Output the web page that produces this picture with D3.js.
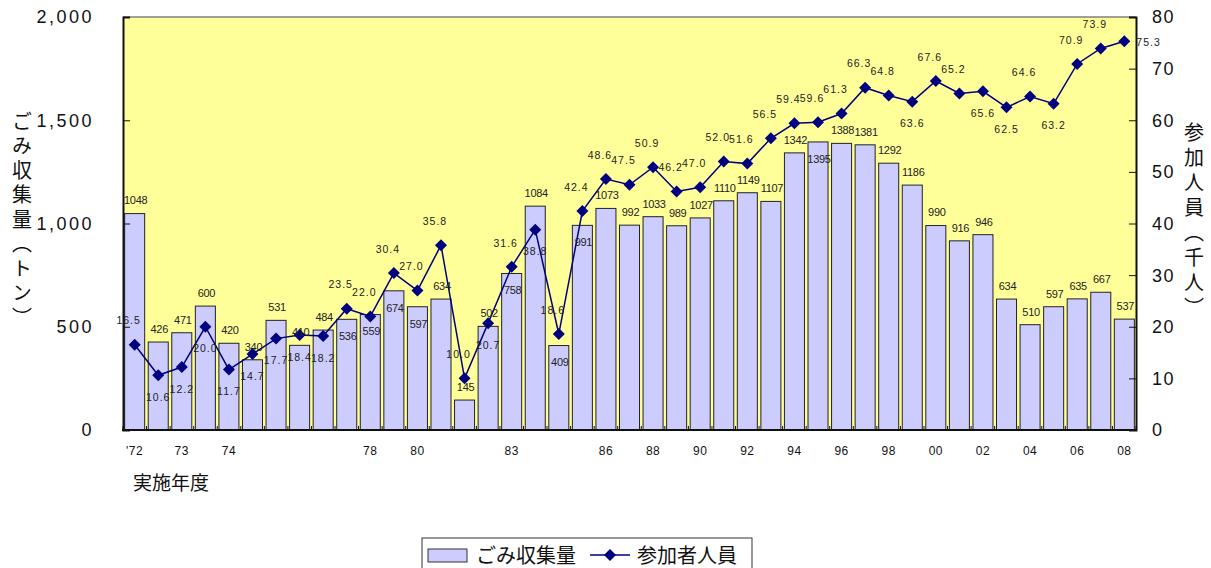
<!DOCTYPE html>
<html>
<head>
<meta charset="utf-8">
<script src="https://cdn.jsdelivr.net/npm/d3@7"></script>
<style>
  body { margin: 0; background: #fff; }
  svg { display: block; font-family: "Liberation Sans", Arial, sans-serif; }
  .jp { font-family: "Noto Sans CJK JP", sans-serif; }
  .lbl { font-size: 11px; fill: #222; }
</style>
</head>
<body>
<script>
// x categories (one per event) and the tick labels shown under them
var tickLabels = ["'72", "", "73", "", "74", "", "", "", "", "", "78", "", "80", "", "", "",
  "83", "", "", "", "86", "", "88", "", "90", "", "92", "", "94", "", "96", "", "98", "",
  "00", "", "02", "", "04", "", "06", "", "08"];

// ごみ収集量 (トン)
var garbage = [1048, 426, 471, 600, 420, 340, 531, 410, 484, 536, 559, 674, 597, 634, 145,
  502, 758, 1084, 409, 991, 1073, 992, 1033, 989, 1027, 1110, 1149, 1107, 1342, 1395,
  1388, 1381, 1292, 1186, 990, 916, 946, 634, 510, 597, 635, 667, 537];

// 参加者人員 (千人)
var people = [16.5, 10.6, 12.2, 20.0, 11.7, 14.7, 17.7, 18.4, 18.2, 23.5, 22.0, 30.4, 27.0,
  35.8, 10.0, 20.7, 31.6, 38.8, 18.6, 42.4, 48.6, 47.5, 50.9, 46.2, 47.0, 52.0, 51.6, 56.5,
  59.4, 59.6, 61.3, 66.3, 64.8, 63.6, 67.6, 65.2, 65.6, 62.5, 64.6, 63.2, 70.9, 73.9, 75.3];

var leftTicks = [0, 500, 1000, 1500, 2000];
var rightTicks = [0, 10, 20, 30, 40, 50, 60, 70, 80];

// where each data label sits: a = above, i = inside bar, b = below point, r = right
var barLabelPos = "aaaaaaaaa" + "iiii" + "aaa" + "i" + "a" + "ii" + "aaaaaaaaa" + "i" + "aaaaaaaaaaaaa";
var lineLabelPos = "a" + "bbbbbbbb" + "aaaaaa" + "b" + "a" + "b" + "a" + "a" + "aaaaaaaaaaaaa" +
  "b" + "aa" + "bb" + "a" + "b" + "aa" + "r";

var svgWidth = 1211, svgHeight = 568;
var plot = { left: 123, right: 1136, top: 17, bottom: 430 };

var svg = d3.select("body").append("svg")
  .attr("width", svgWidth)
  .attr("height", svgHeight);

var idx = d3.range(garbage.length);

var x = d3.scaleBand()
  .domain(idx)
  .range([plot.left, plot.right])
  .paddingInner(0.15)
  .paddingOuter(0.07);

var yLeft = d3.scaleLinear().domain([0, 2000]).range([plot.bottom, plot.top]);
var yRight = d3.scaleLinear().domain([0, 80]).range([plot.bottom, plot.top]);

// plot background
svg.append("rect")
  .attr("x", plot.left).attr("y", plot.top)
  .attr("width", plot.right - plot.left).attr("height", plot.bottom - plot.top)
  .attr("fill", "#ffff99");

svg.append("line")
  .attr("x1", plot.left).attr("x2", plot.right)
  .attr("y1", plot.top).attr("y2", plot.top)
  .attr("stroke", "#808080").attr("stroke-width", 1.5);

// bars
svg.append("g").selectAll("rect")
  .data(idx)
  .enter().append("rect")
  .attr("x", function(i) { return x(i); })
  .attr("y", function(i) { return yLeft(garbage[i]); })
  .attr("width", x.bandwidth())
  .attr("height", function(i) { return plot.bottom - yLeft(garbage[i]); })
  .attr("fill", "#ccccff")
  .attr("stroke", "#222")
  .attr("stroke-width", 1);

// axes
var leftAxis = d3.axisRight(yLeft).tickValues(leftTicks).tickSize(7).tickFormat("");
var rightAxis = d3.axisLeft(yRight).tickValues(rightTicks).tickSize(7).tickFormat("");

var gl = svg.append("g").attr("transform", "translate(" + plot.left + ",0)").call(leftAxis);
var gr = svg.append("g").attr("transform", "translate(" + plot.right + ",0)").call(rightAxis);
[gl, gr].forEach(function(g) {
  g.select(".domain").attr("stroke", "#111").attr("stroke-width", 2);
  g.selectAll(".tick line").attr("stroke", "#111");
});

// bottom axis with ticks between categories
var bottom = svg.append("g");
bottom.selectAll("line.tk")
  .data(d3.range(garbage.length + 1))
  .enter().append("line")
  .attr("class", "tk")
  .attr("x1", function(i) { return plot.left + (plot.right - plot.left) * i / garbage.length; })
  .attr("x2", function(i) { return plot.left + (plot.right - plot.left) * i / garbage.length; })
  .attr("y1", plot.bottom).attr("y2", plot.bottom - 4)
  .attr("stroke", "#111");
bottom.append("line")
  .attr("x1", plot.left - 1).attr("x2", plot.right + 1)
  .attr("y1", plot.bottom).attr("y2", plot.bottom)
  .attr("stroke", "#111").attr("stroke-width", 2);

// tick labels
svg.append("g").selectAll("text")
  .data(leftTicks)
  .enter().append("text")
  .attr("x", 94)
  .attr("y", function(d) { return yLeft(d); })
  .attr("dy", "0.36em")
  .attr("text-anchor", "end")
  .style("font-size", "18px")
  .style("letter-spacing", "2.5px")
  .attr("fill", "#111")
  .text(function(d) { return d3.format(",")(d); });

svg.append("g").selectAll("text")
  .data(rightTicks)
  .enter().append("text")
  .attr("x", 1152)
  .attr("y", function(d) { return yRight(d); })
  .attr("dy", "0.36em")
  .style("font-size", "18px")
  .style("letter-spacing", "1.5px")
  .attr("fill", "#111")
  .text(function(d) { return d; });

svg.append("g").selectAll("text")
  .data(idx.filter(function(i) { return tickLabels[i] !== ""; }))
  .enter().append("text")
  .attr("x", function(i) { return x(i) + x.bandwidth() / 2; })
  .attr("y", 455)
  .attr("text-anchor", "middle")
  .style("font-size", "12px")
  .style("letter-spacing", "0.5px")
  .attr("fill", "#111")
  .text(function(i) { return tickLabels[i]; });

// axis titles
svg.append("text")
  .attr("class", "jp")
  .attr("x", 133).attr("y", 490)
  .style("font-size", "19px")
  .attr("fill", "#111")
  .text("実施年度");

svg.append("text")
  .attr("class", "jp")
  .attr("x", 22).attr("y", 111)
  .style("writing-mode", "vertical-rl")
  .style("font-size", "20px")
  .style("letter-spacing", "4.5px")
  .attr("fill", "#111")
  .text("ごみ収集量（トン）");

svg.append("text")
  .attr("class", "jp")
  .attr("x", 1194).attr("y", 122)
  .style("writing-mode", "vertical-rl")
  .style("font-size", "20px")
  .style("letter-spacing", "5px")
  .attr("fill", "#111")
  .text("参加人員（千人）");

// line + markers
var cx = function(i) { return x(i) + x.bandwidth() / 2; };

var line = d3.line()
  .x(function(i) { return cx(i); })
  .y(function(i) { return yRight(people[i]); });

svg.append("path")
  .datum(idx)
  .attr("d", line)
  .attr("fill", "none")
  .attr("stroke", "#000080")
  .attr("stroke-width", 1.5);

var marker = d3.symbol().type(d3.symbolSquare).size(72);

svg.append("g").selectAll("path")
  .data(idx)
  .enter().append("path")
  .attr("d", marker)
  .attr("transform", function(i) {
    return "translate(" + cx(i) + "," + yRight(people[i]) + ") rotate(45)";
  })
  .attr("fill", "#000080");

// data labels for bars
svg.append("g").selectAll("text")
  .data(idx)
  .enter().append("text")
  .attr("class", "lbl")
  .attr("x", function(i) { return cx(i) + 1; })
  .attr("y", function(i) {
    var top = yLeft(garbage[i]);
    return barLabelPos[i] === "i" ? top + 17 : top - 13;
  })
  .attr("dy", "0.35em")
  .attr("text-anchor", "middle")
  .style("letter-spacing", "-0.3px")
  .text(function(i) { return garbage[i]; });

// data labels for the line
svg.append("g").selectAll("text")
  .data(idx)
  .enter().append("text")
  .attr("class", "lbl")
  .attr("x", function(i) {
    var p = lineLabelPos[i];
    if (p === "r") return cx(i) + 12;
    return p === "a" ? cx(i) - 6 : cx(i);
  })
  .attr("y", function(i) {
    var p = lineLabelPos[i], py = yRight(people[i]);
    if (p === "r") return py + 1;
    return p === "a" ? py - 24 : py + 22;
  })
  .attr("dy", "0.35em")
  .attr("text-anchor", function(i) { return lineLabelPos[i] === "r" ? "start" : "middle"; })
  .style("font-size", "10.5px")
  .style("letter-spacing", "1px")
  .text(function(i) { return people[i].toFixed(1); });

// legend
var legend = svg.append("g").attr("transform", "translate(422,538)");
legend.append("rect")
  .attr("x", 0).attr("y", 0).attr("width", 330).attr("height", 40)
  .attr("fill", "#fff").attr("stroke", "#333");
legend.append("rect")
  .attr("x", 6).attr("y", 11).attr("width", 39).attr("height", 13)
  .attr("fill", "#ccccff").attr("stroke", "#333");
legend.append("text")
  .attr("class", "jp")
  .attr("x", 54).attr("y", 25)
  .style("font-size", "20px").attr("fill", "#111")
  .text("ごみ収集量");
legend.append("line")
  .attr("x1", 168).attr("x2", 208).attr("y1", 17).attr("y2", 17)
  .attr("stroke", "#000080").attr("stroke-width", 1.5);
legend.append("path")
  .attr("d", marker)
  .attr("transform", "translate(188,17) rotate(45)")
  .attr("fill", "#000080");
legend.append("text")
  .attr("class", "jp")
  .attr("x", 215).attr("y", 25)
  .style("font-size", "20px").attr("fill", "#111")
  .text("参加者人員");
</script>
</body>
</html>
